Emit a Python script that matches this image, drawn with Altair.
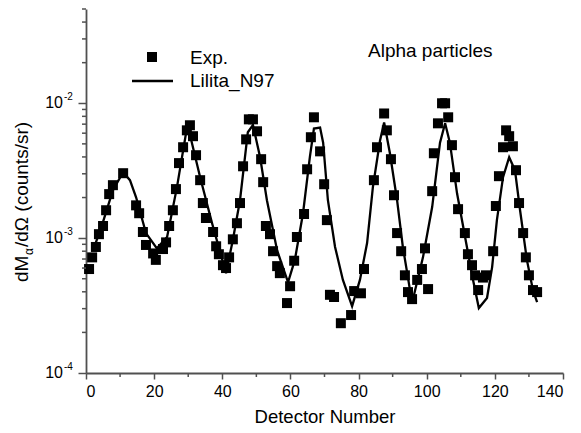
import altair as alt
import pandas as pd

# Experimental points (detector number, dM/dOmega)
exp_x = [0.9, 1.8, 2.9, 3.8, 5.0, 5.9, 6.8, 7.9, 10.9, 14.7, 15.6, 16.7, 17.6, 19.7, 20.5,
         22.6, 23.5, 24.4, 25.5, 26.4, 27.3, 28.5, 29.6, 30.5, 31.4, 32.3, 33.5, 34.3, 35.2,
         37.3, 38.2, 39.0, 40.2, 41.1, 42.0, 43.1, 44.3, 45.2, 46.1, 47.0, 47.8, 49.0, 50.2,
         51.4, 52.0, 52.8, 54.0, 54.9, 56.1, 56.9, 59.0, 59.9, 61.1, 61.9, 64.0, 64.9, 66.0,
         66.9, 68.7, 69.9, 70.7, 71.6, 72.8, 74.8, 77.8, 78.7, 80.7, 81.6, 84.5, 85.4, 87.5,
         88.3, 89.5, 90.4, 91.3, 92.5, 93.6, 94.5, 95.7, 97.2, 98.6, 99.5, 100.4, 101.6, 102.1,
         103.3, 104.5, 105.4, 106.3, 107.4, 108.3, 109.2, 111.2, 112.1, 113.3, 114.2, 115.1,
         116.5, 117.4, 119.5, 120.3, 121.2, 122.4, 123.3, 124.2, 125.3, 126.2, 127.1, 128.3,
         129.1, 130.0, 131.2, 132.4]
exp_y = [5.9e-4, 7.2e-4, 8.6e-4, 1.07e-3, 1.23e-3, 1.61e-3, 2.12e-3, 2.47e-3, 3.03e-3, 1.75e-3,
         1.53e-3, 1.11e-3, 8.9e-4, 7.7e-4, 6.9e-4, 8.3e-4, 9.3e-4, 1.23e-3, 1.61e-3, 2.31e-3,
         3.6e-3, 4.72e-3, 6.3e-3, 6.87e-3, 5.7e-3, 4.12e-3, 2.69e-3, 1.82e-3, 1.41e-3, 1.11e-3,
         8.7e-4, 7.6e-4, 6.3e-4, 6.0e-4, 7.2e-4, 9.8e-4, 1.29e-3, 1.82e-3, 3.41e-3, 5.4e-3,
         7.6e-3, 7.6e-3, 6.2e-3, 3.85e-3, 2.6e-3, 1.23e-3, 1.07e-3, 8.0e-4, 6.2e-4, 5.5e-4,
         3.3e-4, 4.4e-4, 6.8e-4, 1.02e-3, 1.51e-3, 3.24e-3, 5.6e-3, 7.87e-3, 4.4e-3, 2.51e-3,
         1.36e-3, 3.8e-4, 3.66e-4, 2.34e-4, 2.69e-4, 4.05e-4, 3.9e-4, 5.9e-4, 2.69e-3, 4.72e-3,
         8.4e-3, 6.3e-3, 3.85e-3, 2.08e-3, 1.09e-3, 8.0e-4, 5.3e-4, 3.98e-4, 3.53e-4, 4.9e-4,
         5.9e-4, 8.4e-4, 4.19e-4, 2.23e-3, 4.26e-3, 7.1e-3, 1.0e-2, 1.0e-2, 7.87e-3, 4.89e-3,
         2.83e-3, 1.64e-3, 1.09e-3, 7.6e-4, 6.3e-4, 5.3e-4, 4.12e-4, 5.1e-4, 5.3e-4, 8.0e-4,
         1.73e-3, 2.88e-3, 4.72e-3, 6.3e-3, 5.7e-3, 4.8e-3, 3.19e-3, 1.82e-3, 1.09e-3, 7.2e-4,
         5.3e-4, 4.12e-4, 3.98e-4]

# Lilita_N97 model curve
fit_x = [2.1, 5.0, 7.9, 10.9, 12.9, 14.7, 17.6, 20.8, 23.8, 26.7, 29.4, 30.0, 33.5, 37.0, 41.1,
         43.1, 45.2, 47.5, 49.0, 51.1, 53.1, 56.1, 59.3, 61.3, 63.7, 65.7, 66.9, 68.7, 69.6,
         71.0, 73.1, 75.4, 78.1, 80.4, 82.5, 84.2, 86.3, 87.5, 89.2, 91.3, 93.0, 94.5, 95.7,
         98.9, 101.6, 103.9, 105.4, 106.8, 108.9, 111.8, 113.6, 115.3, 117.7, 119.2, 120.6,
         122.4, 124.2, 125.9, 127.4, 129.4, 131.2, 132.4]
fit_y = [8.1e-4, 1.32e-3, 2.27e-3, 3.08e-3, 2.69e-3, 2.01e-3, 1.09e-3, 8.4e-4, 1.02e-3, 2.39e-3,
         6.1e-3, 6.6e-3, 2.83e-3, 1.29e-3, 5.5e-4, 9.7e-4, 1.91e-3, 6.1e-3, 6.9e-3, 3.98e-3,
         1.91e-3, 8.1e-4, 4.7e-4, 6.9e-4, 1.53e-3, 3.98e-3, 6.5e-3, 6.6e-3, 5.1e-3, 1.91e-3,
         8.6e-4, 4.9e-4, 3.13e-4, 4.9e-4, 9.2e-4, 2.39e-3, 5.3e-3, 7.2e-3, 4.26e-3, 1.91e-3,
         8.6e-4, 5.1e-4, 3.3e-4, 7.2e-4, 1.70e-3, 5.1e-3, 7.1e-3, 5.1e-3, 2.15e-3, 8.6e-4,
         4.9e-4, 3.03e-4, 3.6e-4, 6.1e-4, 1.36e-3, 2.83e-3, 3.98e-3, 3.19e-3, 1.61e-3, 6.9e-4,
         4.1e-4, 3.36e-4]

x_ticks = [0, 20, 40, 60, 80, 100, 120, 140]
x_minor = [10, 30, 50, 70, 90, 110, 130]
y_major = [1e-4, 1e-3, 1e-2]
y_major_exp = ["-4", "-3", "-2"]
y_minor = [2e-4, 3e-4, 4e-4, 5e-4, 6e-4, 7e-4, 8e-4, 9e-4,
           2e-3, 3e-3, 4e-3, 5e-3, 6e-3, 7e-3, 8e-3, 9e-3,
           2e-2, 3e-2, 4e-2, 5e-2]

W, H = 477, 364
FONT = "Liberation Sans"
AX = "#505050"
BIG = 19

xs = alt.Scale(domain=[0, 140], nice=False)
ys = alt.Scale(type="log", domain=[1e-4, 5e-2], nice=False)

df_exp = pd.DataFrame({"x": exp_x, "y": exp_y})
df_fit = pd.DataFrame({"x": fit_x, "y": fit_y})
df_ymin = pd.DataFrame({"y": y_minor})
df_xmin = pd.DataFrame({"x": x_minor})
df_ymaj = pd.DataFrame({"y": y_major, "e": y_major_exp})
one = df_ymaj.head(1)

X = alt.X("x:Q", scale=xs,
          axis=alt.Axis(values=x_ticks, format="d", title="Detector Number",
                        grid=False, tickSize=6, labelPadding=4, titlePadding=8))
Y = alt.Y("y:Q", scale=ys,
          axis=alt.Axis(values=y_major, labels=False, title=None, grid=False, tickSize=8))

line = alt.Chart(df_fit).mark_line(color="black", strokeWidth=2.3).encode(x=X, y=Y)
pts = alt.Chart(df_exp).mark_square(size=100, color="black", filled=True, opacity=1).encode(x=X, y=Y)

ymin = alt.Chart(df_ymin).mark_rule(color=AX, strokeWidth=1.5).encode(
    y=alt.Y("y:Q", scale=ys), x=alt.value(-4), x2=alt.value(0))
xmin = alt.Chart(df_xmin).mark_rule(color=AX, strokeWidth=1.5).encode(
    x=alt.X("x:Q", scale=xs), y=alt.value(H), y2=alt.value(H + 4))

lab10 = alt.Chart(df_ymaj).mark_text(font=FONT, fontSize=16, align="right", baseline="middle",
                                     color="black").encode(
    y=alt.Y("y:Q", scale=ys), x=alt.value(-23), text=alt.value("10"))
labexp = alt.Chart(df_ymaj).mark_text(font=FONT, fontSize=10, align="left", baseline="middle",
                                      color="black", dy=-6).encode(
    y=alt.Y("y:Q", scale=ys), x=alt.value(-22), text="e:N")


def label(txt, x, y, size=BIG, angle=None):
    kw = dict(font=FONT, fontSize=size, align="left", baseline="middle", color="black")
    if angle is not None:
        kw["angle"] = angle
    return alt.Chart(one).mark_text(**kw).encode(
        x=alt.value(x), y=alt.value(y), text=alt.value(txt))


# legend
leg_sq = alt.Chart(one).mark_square(size=100, color="black", opacity=1).encode(
    x=alt.value(66), y=alt.value(48))
leg_ln = alt.Chart(one).mark_rule(color="black", strokeWidth=2.3).encode(
    x=alt.value(46), x2=alt.value(87), y=alt.value(72))
leg_t1 = label("Exp.", 104, 49)
leg_t2 = label("Lilita_N97", 104, 72)
note = label("Alpha particles", 282, 42)

# y title with subscript alpha
t1 = label("dM", -64, 273, angle=270)
t2 = label("α", -57, 246, size=12, angle=270)
t3 = label("/dΩ (counts/sr)", -64, 238, angle=270)

chart = alt.layer(line, pts, ymin, xmin, lab10, labexp, leg_sq, leg_ln, leg_t1, leg_t2, note,
                  t1, t2, t3).properties(
    width=W, height=H,
    autosize=alt.AutoSizeParams(type="none"),
    padding={"left": 78, "top": 1, "right": 10, "bottom": 56},
    background="white",
).configure_view(stroke=None).configure_axis(
    domainColor=AX, domainWidth=1.8, tickColor=AX, tickWidth=1.5,
    labelFont=FONT, labelFontSize=16, labelColor="black",
    titleFont=FONT, titleFontSize=18.5, titleFontWeight="normal", titleColor="black",
)

chart.save("out.html", embed_options={"renderer": "svg", "actions": False})
